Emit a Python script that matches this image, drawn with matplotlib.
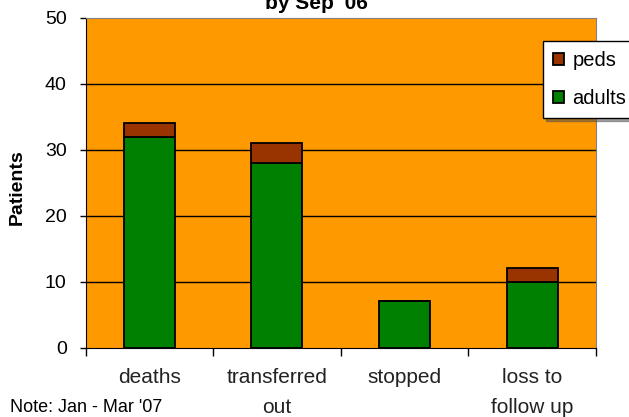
import matplotlib.pyplot as plt
import matplotlib.transforms as mtransforms
import numpy as np

plt.rcParams['font.family'] = ['Liberation Sans', 'DejaVu Sans']

categories = ["deaths", "transferred\nout", "stopped", "loss to\nfollow up"]
adults = [32, 28, 7, 10]
peds = [2, 3, 0, 2]

W, H = 629, 417
fig = plt.figure(figsize=(W/100, H/100), dpi=100)
ax = fig.add_axes([85.5/W, 1-347.5/H, (596-85.5)/W, (347.5-18)/H])
ax.set_facecolor("#ff9900")

x = np.arange(len(categories))
ax.bar(x, adults, width=0.4, color="#008000", edgecolor="black", linewidth=1.3, label="adults", zorder=3)
ax.bar(x, peds, width=0.4, bottom=adults, color="#993300", edgecolor="black", linewidth=1.3, label="peds", zorder=3)

ax.set_xlim(-0.5, 3.5)
ax.set_ylim(0, 50)
ax.set_yticks(range(0, 51, 10))
ax.set_xticks(np.arange(-0.5, 4, 1))
ax.set_xticklabels([])
trans = mtransforms.blended_transform_factory(ax.transData, fig.transFigure)
for i, c in enumerate(categories):
    ax.text(i, 1-368/H, c, ha="center", va="top", fontsize=15, linespacing=1.75,
            color="#222222", transform=trans)
ax.tick_params(axis="x", direction="out", length=6, width=1)
ax.tick_params(axis="y", direction="out", length=4.5, width=1, labelsize=14, pad=9)
for v in range(10, 50, 10):
    ax.axhline(v, color="black", linewidth=1, zorder=1)

ax.spines["left"].set_color("black")
ax.spines["bottom"].set_color("black")
ax.spines["top"].set_color("#808080")
ax.spines["right"].set_color("#808080")
fig.text(17.5/W, 1-187/H, "Patients", rotation=90, ha="center", va="center",
         fontsize=14, fontweight="bold")

h, l = ax.get_legend_handles_labels()
leg = ax.legend(h[::-1], l[::-1], loc="upper left", bbox_to_anchor=(543/W, 1-41/H),
                bbox_transform=fig.transFigure, borderaxespad=0, fancybox=False, shadow=True,
                edgecolor="black", framealpha=1, fontsize=14.5, handlelength=0.55,
                handleheight=0.55, handletextpad=0.4, labelspacing=0.95, borderpad=0.5)
leg.get_frame().set_linewidth(1)
leg.set_zorder(5)

fig.text(316/W, 1-9/H, "by Sep '06", ha="center", va="baseline", fontsize=15, fontweight="bold")
fig.text(10/W, 1-407/H, "Note: Jan - Mar '07", ha="left", va="center", fontsize=13)

fig.savefig("out.png", dpi=100)
